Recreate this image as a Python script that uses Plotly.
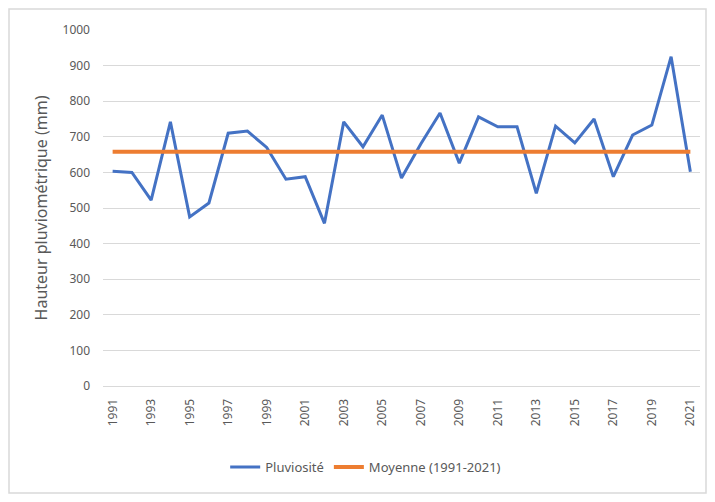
import plotly.graph_objects as go

# Données
annees = list(range(1991, 2022))
pluviosite = [
    603, 600, 522, 742, 475, 514, 710, 716, 670, 581,
    588, 457, 742, 672, 761, 584, 680, 767, 626, 756,
    728, 728, 541, 730, 683, 750, 588, 705, 733, 925,
    602,
]
moyenne = [658] * len(annees)

BLEU = "#4472C4"
ORANGE = "#ED7D31"
GRIS_TXT = "#595959"
GRILLE = "#D9D9D9"

# la page ajoute ~8 px de marge autour de la figure
W, H = 699, 486
ML, MR, MT, MB = 95, 7, 22, 108

fig = go.Figure()
fig.add_scatter(
    x=annees, y=pluviosite, name="Pluviosité",
    mode="lines", line=dict(color=BLEU, width=3),
)
fig.add_scatter(
    x=annees, y=moyenne, name="Moyenne (1991-2021)",
    mode="lines", line=dict(color=ORANGE, width=4),
)

# cadre du graphique (style Excel)
pw, ph = W - ML - MR, H - MT - MB
fig.add_shape(
    type="rect", xref="paper", yref="paper",
    x0=(1 - ML) / pw, x1=(W - 1 - ML) / pw,
    y0=-(H - 1 - MT - ph) / ph, y1=1 + (MT - 1) / ph,
    line=dict(color=GRILLE, width=1.5), fillcolor="rgba(0,0,0,0)",
    layer="below",
)

fig.update_layout(
    width=W, height=H,
    margin=dict(l=ML, r=MR, t=MT, b=MB),
    paper_bgcolor="white",
    plot_bgcolor="white",
    font=dict(family="Noto Sans, sans-serif", color=GRIS_TXT, size=12),
    legend=dict(
        orientation="h", x=0.44, xanchor="center", y=-0.228, yanchor="middle",
        font=dict(size=13, color=GRIS_TXT),
    ),
)
fig.update_xaxes(
    range=[1990.5, 2021.5],
    tickmode="linear", tick0=1991, dtick=2,
    tickangle=-90,
    showgrid=False,
    showline=True, linecolor=GRILLE, linewidth=1,
    ticks="", ticklabelstandoff=7,
    tickfont=dict(size=12, color=GRIS_TXT),
)
fig.update_yaxes(
    range=[0, 1000], dtick=100,
    gridcolor=GRILLE, gridwidth=1,
    zeroline=False,
    ticks="", ticklabelstandoff=12,
    tickfont=dict(size=12, color=GRIS_TXT),
    title=dict(text="Hauteur pluviométrique (mm)", font=dict(size=16, color=GRIS_TXT), standoff=10),
)

fig.write_html("out.html")
